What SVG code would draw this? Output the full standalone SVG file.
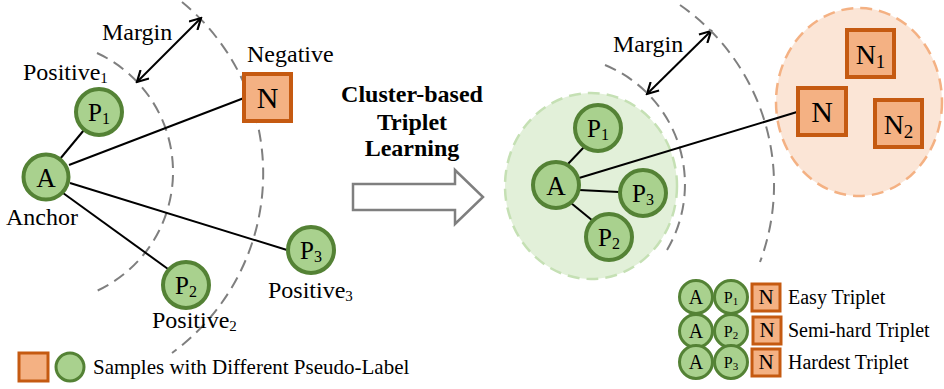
<svg xmlns="http://www.w3.org/2000/svg" width="944" height="389" viewBox="0 0 944 389" font-family="'Liberation Serif', 'Times New Roman', 'DejaVu Serif', serif">
<style>
text{font-family:'Liberation Serif','Times New Roman','DejaVu Serif',serif;fill:#000}
.pc{fill:#a9d18e;stroke:#548235;stroke-width:4}
.pcs{fill:#a9d18e;stroke:#548235;stroke-width:3}
.ng{fill:#f4b183;stroke:#c55a11;stroke-width:4}
.ngs{fill:#f4b183;stroke:#c55a11;stroke-width:3}
.arc{fill:none;stroke:#7f7f7f;stroke-width:2;stroke-dasharray:12 7}
.ln{stroke:#000;stroke-width:2;fill:none}
.mid{text-anchor:middle}
</style>
<defs>
<marker id="ah" viewBox="0 0 14 14" refX="12" refY="7" markerWidth="14" markerHeight="14" markerUnits="userSpaceOnUse" orient="auto-start-reverse">
<path d="M1,1 L12,7 L1,13" fill="none" stroke="#000" stroke-width="2.2"/>
</marker>
</defs>

<g id="left-arcs">
<path class="arc" d="M97,53 A131,131 0 0 1 92,293"/>
<path class="arc" d="M182,2 A222,222 0 0 1 172,353"/>
</g>

<g id="connectors">
<line class="ln" x1="60" y1="159" x2="84" y2="130"/>
<line class="ln" x1="69" y1="165" x2="244" y2="98"/>
<line class="ln" x1="63" y1="193" x2="168" y2="269"/>
<line class="ln" x1="70" y1="183" x2="287" y2="250"/>
<line class="ln" x1="137" y1="82" x2="201" y2="18" marker-start="url(#ah)" marker-end="url(#ah)"/>
<line class="ln" x1="647" y1="94" x2="711" y2="31" marker-start="url(#ah)" marker-end="url(#ah)"/>
</g>

<g id="left-A">
<circle class="pc" cx="46" cy="177" r="22.5"/>
<text class="mid" x="46" y="187" font-size="27">A</text>
<text x="6" y="225" font-size="24">Anchor</text>
</g>
<g id="left-P1">
<circle class="pc" cx="99" cy="112" r="23"/>
<text class="mid" x="99" y="121" font-size="25">P<tspan font-size="16" dy="3">1</tspan></text>
<text x="23" y="80" font-size="24">Positive<tspan font-size="15" dy="3">1</tspan></text>
</g>
<g id="left-P2">
<circle class="pc" cx="186" cy="285" r="23"/>
<text class="mid" x="186" y="294" font-size="25">P<tspan font-size="16" dy="3">2</tspan></text>
<text x="152" y="328" font-size="24">Positive<tspan font-size="15" dy="3">2</tspan></text>
</g>
<g id="left-P3">
<circle class="pc" cx="311" cy="250" r="23"/>
<text class="mid" x="311" y="259" font-size="25">P<tspan font-size="16" dy="3">3</tspan></text>
<text x="268" y="298" font-size="24">Positive<tspan font-size="15" dy="3">3</tspan></text>
</g>
<g id="left-N">
<rect class="ng" x="244" y="74" width="47" height="47"/>
<text class="mid" x="267.5" y="108" font-size="30">N</text>
<text x="247" y="62" font-size="24">Negative</text>
</g>
<g id="left-margin">
<text x="102" y="40" font-size="24">Margin</text>
</g>

<g id="legend-left">
<rect class="ngs" x="19" y="353" width="29" height="28"/>
<circle class="pcs" cx="70" cy="367" r="14"/>
<text x="93" y="374" font-size="21">Samples with Different Pseudo-Label</text>
</g>

<g id="center-arrow">
<text class="mid" x="412" y="102" font-size="24" font-weight="bold">Cluster-based</text>
<text class="mid" x="412" y="130" font-size="24" font-weight="bold">Triplet</text>
<text class="mid" x="412" y="156" font-size="24" font-weight="bold">Learning</text>
<polygon points="353,184 455,184 455,170 483,197 455,224 455,210 353,210" fill="#fff" stroke="#7f7f7f" stroke-width="2.5"/>
</g>

<g id="cluster-pos">
<ellipse cx="591" cy="186" rx="86" ry="93" fill="#e2f0d9" stroke="#c5e0b4" stroke-width="2.5" stroke-dasharray="12 7"/>
</g>
<g id="cluster-neg">
<ellipse cx="859" cy="102" rx="83" ry="94" fill="#fbe5d6" stroke="#f4b183" stroke-width="2.5" stroke-dasharray="12 7"/>
</g>
<g id="right-arcs">
<path class="arc" d="M605,65 A129,129 0 0 1 667,250"/>
<path class="arc" d="M680,5 A219,219 0 0 1 760,262"/>
</g>
<g id="right-margin">
<text x="613" y="52" font-size="24">Margin</text>
</g>

<g id="right-connectors">
<line class="ln" x1="567" y1="165" x2="585" y2="146"/>
<line class="ln" x1="579" y1="190" x2="619" y2="192"/>
<line class="ln" x1="571" y1="203" x2="593" y2="221"/>
<line class="ln" x1="579" y1="178" x2="797" y2="112"/>
</g>

<g id="right-A">
<circle class="pc" cx="556" cy="185" r="23"/>
<text class="mid" x="556" y="195" font-size="27">A</text>
</g>
<g id="right-P1">
<circle class="pc" cx="598" cy="128" r="23"/>
<text class="mid" x="598" y="137" font-size="25">P<tspan font-size="16" dy="3">1</tspan></text>
</g>
<g id="right-P3">
<circle class="pc" cx="643" cy="193" r="23"/>
<text class="mid" x="643" y="202" font-size="25">P<tspan font-size="16" dy="3">3</tspan></text>
</g>
<g id="right-P2">
<circle class="pc" cx="609" cy="237" r="23"/>
<text class="mid" x="609" y="246" font-size="25">P<tspan font-size="16" dy="3">2</tspan></text>
</g>
<g id="right-N">
<rect class="ng" x="798" y="88" width="48" height="47"/>
<text class="mid" x="822" y="122" font-size="30">N</text>
</g>
<g id="right-N1">
<rect class="ng" x="847" y="30" width="47" height="47"/>
<text class="mid" x="870.5" y="64" font-size="28">N<tspan font-size="19" dy="4">1</tspan></text>
</g>
<g id="right-N2">
<rect class="ng" x="875" y="100" width="47" height="47"/>
<text class="mid" x="898.5" y="134" font-size="28">N<tspan font-size="19" dy="4">2</tspan></text>
</g>

<g id="legend-easy">
<circle class="pcs" cx="696" cy="297" r="16.5"/>
<text class="mid" x="696" y="304" font-size="20">A</text>
<circle class="pcs" cx="731" cy="297" r="16.5"/>
<text class="mid" x="731" y="303" font-size="16">P<tspan font-size="11" dy="2">1</tspan></text>
<rect class="ngs" x="752" y="284" width="28" height="27"/>
<text class="mid" x="766" y="304" font-size="21">N</text>
<text x="788" y="304" font-size="20">Easy Triplet</text>
</g>
<g id="legend-semi">
<circle class="pcs" cx="696" cy="331" r="16.5"/>
<text class="mid" x="696" y="338" font-size="20">A</text>
<circle class="pcs" cx="731" cy="331" r="16.5"/>
<text class="mid" x="731" y="337" font-size="16">P<tspan font-size="11" dy="2">2</tspan></text>
<rect class="ngs" x="753" y="317" width="28" height="27"/>
<text class="mid" x="767" y="337" font-size="21">N</text>
<text x="788" y="337" font-size="20">Semi-hard Triplet</text>
</g>
<g id="legend-hard">
<circle class="pcs" cx="696" cy="362" r="16.5"/>
<text class="mid" x="696" y="369" font-size="20">A</text>
<circle class="pcs" cx="731" cy="362" r="16.5"/>
<text class="mid" x="731" y="368" font-size="16">P<tspan font-size="11" dy="2">3</tspan></text>
<rect class="ngs" x="752" y="349" width="28" height="27"/>
<text class="mid" x="766" y="369" font-size="21">N</text>
<text x="788" y="369" font-size="20">Hardest Triplet</text>
</g>
</svg>
